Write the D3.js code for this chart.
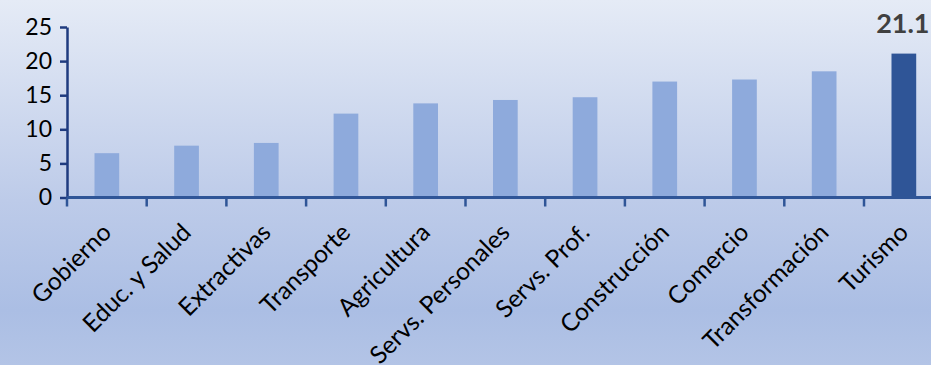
<!DOCTYPE html>
<html>
<head>
<meta charset="utf-8">
<script src="https://cdn.jsdelivr.net/npm/d3@7"></script>
<style>
  html, body { margin: 0; padding: 0; }
  svg { display: block; }
</style>
</head>
<body>
<svg id="chart"></svg>
<script>
  const categories = ["Gobierno", "Educ. y Salud", "Extractivas", "Transporte", "Agricultura",
    "Servs. Personales", "Servs. Prof.", "Construcción", "Comercio", "Transformación", "Turismo"];
  const values = [6.5, 7.6, 8.0, 12.3, 13.8, 14.3, 14.7, 17.0, 17.3, 18.5, 21.1];
  const yTicks = [0, 5, 10, 15, 20, 25];
  const highlight = "Turismo";
  const highlightLabel = "21.1";

  const width = 931, height = 365;
  const margin = { top: 27, left: 67, bottom: 167.5 };
  const step = 79.7;

  const svg = d3.select("#chart")
    .attr("width", width)
    .attr("height", height);

  // background gradient
  const defs = svg.append("defs");
  const grad = defs.append("linearGradient")
    .attr("id", "bg")
    .attr("x1", 0).attr("y1", 0).attr("x2", 0).attr("y2", 1);
  grad.append("stop").attr("offset", "0%").attr("stop-color", "#e5ebf6");
  grad.append("stop").attr("offset", "55%").attr("stop-color", "#bdcbe9");
  grad.append("stop").attr("offset", "85%").attr("stop-color", "#abbee4");
  grad.append("stop").attr("offset", "100%").attr("stop-color", "#b3c4e6");

  svg.append("rect")
    .attr("width", width)
    .attr("height", height)
    .attr("fill", "url(#bg)");

  const xScale = d3.scaleBand()
    .domain(categories)
    .range([margin.left, margin.left + step * categories.length])
    .paddingInner(0.69)
    .paddingOuter(0.345);

  const yScale = d3.scaleLinear()
    .domain([0, 25])
    .range([height - margin.bottom, margin.top]);

  const y0 = yScale(0);

  // Bars
  svg.selectAll(".bar")
    .data(categories)
    .enter()
    .append("rect")
      .attr("class", "bar")
      .attr("x", d => xScale(d))
      .attr("width", xScale.bandwidth())
      .attr("y", (d, i) => yScale(values[i]))
      .attr("height", (d, i) => y0 - yScale(values[i]))
      .attr("fill", d => d === highlight ? "#2f5597" : "#8eaadc");

  // Y axis
  const yAxis = svg.append("g")
    .attr("transform", `translate(${margin.left}, 0)`)
    .call(d3.axisLeft(yScale).tickValues(yTicks).tickSize(7).tickSizeOuter(0).tickPadding(8));
  yAxis.select(".domain").attr("stroke", "#1f3b7f").attr("stroke-width", 2.5);
  yAxis.selectAll(".tick line").attr("stroke", "#1f3b7f").attr("stroke-width", 2.5);
  yAxis.selectAll(".tick text")
    .attr("fill", "#000")
    .style("font-family", "Lato, sans-serif")
    .style("font-size", "23px");

  // X axis line and boundary ticks
  const xStart = xScale.range()[0];
  svg.append("line")
    .attr("x1", xStart)
    .attr("x2", width)
    .attr("y1", y0)
    .attr("y2", y0)
    .attr("stroke", "#2f5597")
    .attr("stroke-width", 3);

  svg.selectAll(".xtick")
    .data(d3.range(categories.length + 1))
    .enter()
    .append("line")
      .attr("class", "xtick")
      .attr("x1", i => xStart + i * xScale.step())
      .attr("x2", i => xStart + i * xScale.step())
      .attr("y1", y0)
      .attr("y2", y0 + 9)
      .attr("stroke", "#2f5597")
      .attr("stroke-width", 2.5);

  // Category labels
  svg.selectAll(".xlabel")
    .data(categories)
    .enter()
    .append("text")
      .attr("class", "xlabel")
      .attr("transform", d => `translate(${xScale(d) + xScale.bandwidth() / 2 + 6}, 234) rotate(-45)`)
      .attr("text-anchor", "end")
      .attr("fill", "#000")
      .style("font-family", "Lato, sans-serif")
      .style("font-size", "24.5px")
      .text(d => d);

  // Value label on highlighted bar
  const hi = categories.indexOf(highlight);
  svg.append("text")
    .attr("x", xScale(highlight) + xScale.bandwidth() / 2 - 1)
    .attr("y", yScale(values[hi]) - 21)
    .attr("text-anchor", "middle")
    .attr("fill", "#404040")
    .style("font-family", "Lato, sans-serif")
    .style("font-size", "27px")
    .style("font-weight", "bold")
    .text(highlightLabel);
</script>
</body>
</html>
